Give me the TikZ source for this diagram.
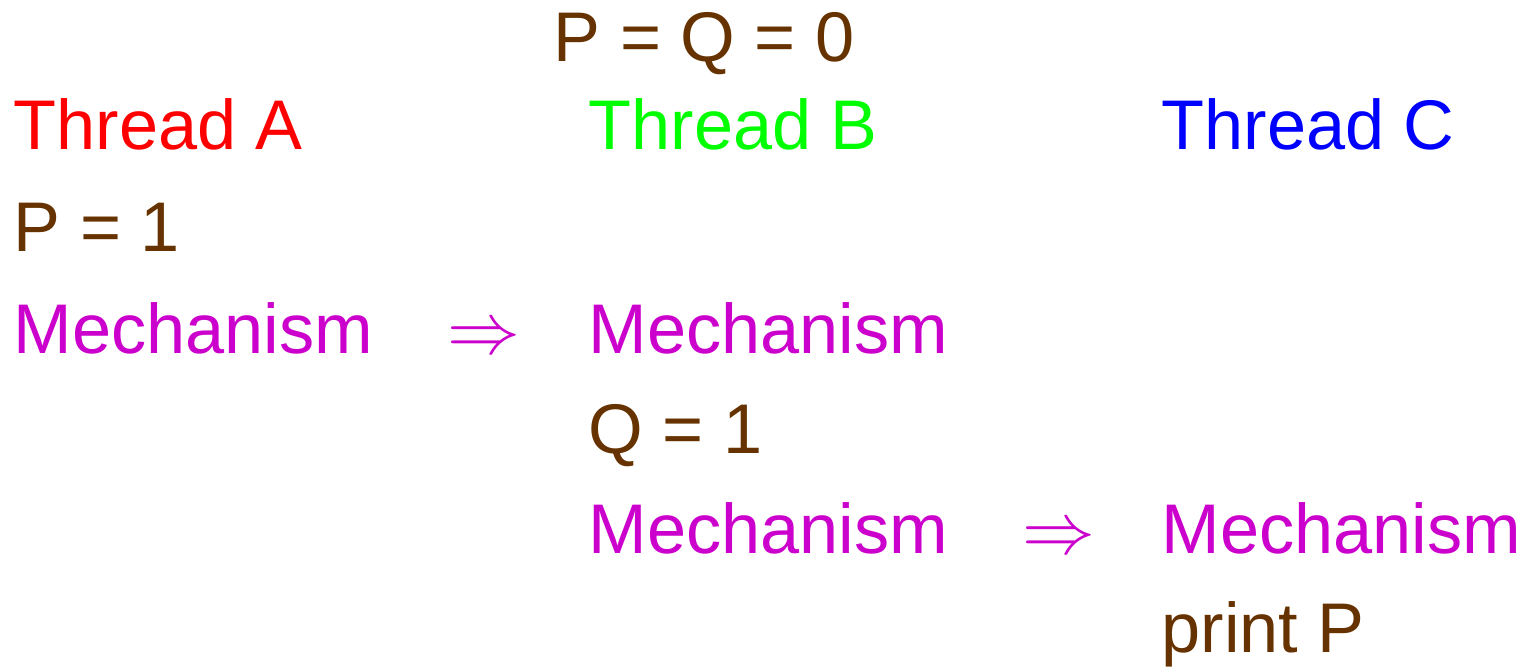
\documentclass[tikz,border=0pt]{standalone}
\usepackage{amsmath,amssymb}
\usepackage{fontspec}
\setmainfont{Liberation Sans}
\usetikzlibrary{positioning}
\definecolor{codebrown}{RGB}{102,51,0}
\definecolor{mechpink}{RGB}{204,0,204}

\begin{document}
\begin{tikzpicture}[every node/.style={anchor=base west, inner sep=0pt, font=\fontsize{20}{24}\selectfont},
  code/.style={text=codebrown}, mech/.style={text=mechpink}]
\useasboundingbox (0,0) rectangle (15.30,-6.71);
\node[code] (init) at (5.53,-0.62) {P = Q = 0};
\node[text=red] (threadA) at (0.13,-1.50) {Thread A};
\node[text=green] (threadB) at (5.88,-1.50) {Thread B};
\node[text=blue] (threadC) at (11.61,-1.50) {Thread C};
\node[code] (setP) at (0.13,-2.52) {P = 1};
\node[mech] (mechA) at (0.13,-3.54) {Mechanism};
\node[mech] (arrAB) at (4.47,-3.54) {$\Rightarrow$};
\node[mech] (mechB1) at (5.88,-3.54) {Mechanism};
\node[code] (setQ) at (5.88,-4.54) {Q = 1};
\node[mech] (mechB2) at (5.88,-5.54) {Mechanism};
\node[mech] (arrBC) at (10.22,-5.54) {$\Rightarrow$};
\node[mech] (mechC) at (11.61,-5.54) {Mechanism};
\node[code] (printP) at (11.61,-6.53) {print P};
\end{tikzpicture}
\end{document}
